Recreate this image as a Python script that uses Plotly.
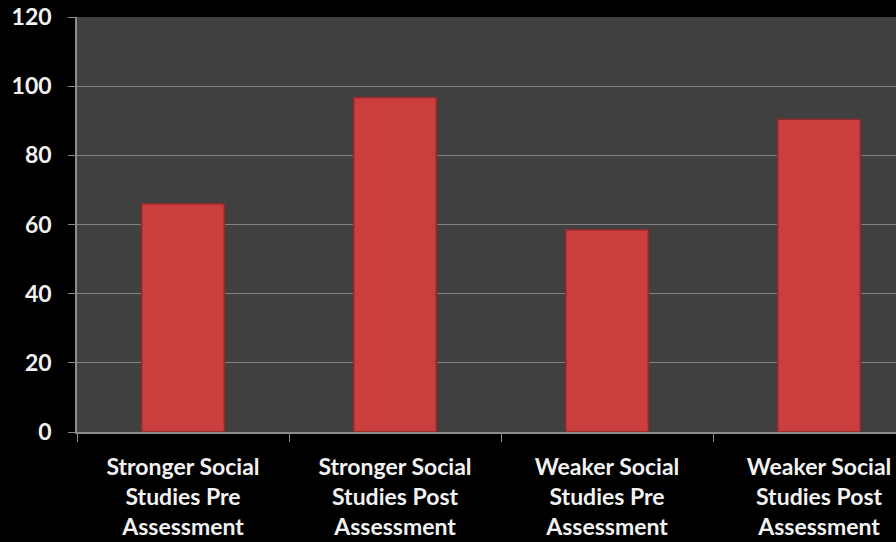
import plotly.graph_objects as go

categories = [
    "Stronger Social<br>Studies Pre<br>Assessment",
    "Stronger Social<br>Studies Post<br>Assessment",
    "Weaker Social<br>Studies Pre<br>Assessment",
    "Weaker Social<br>Studies Post<br>Assessment",
]
values = [66, 96.7, 58.5, 90.4]
y_ticks = [0, 20, 40, 60, 80, 100, 120]

fig = go.Figure()
fig.add_trace(go.Bar(
    x=categories,
    y=values,
    width=0.39,
    marker=dict(color="#cb3e3e", line=dict(color="#8e2a2a", width=1.5)),
))

fig.update_layout(
    width=896, height=542,
    margin=dict(l=77, r=0, t=17, b=110),
    paper_bgcolor="#000000",
    plot_bgcolor="#404040",
    showlegend=False,
    font=dict(family="Lato", color="#f2f2f2"),
)
fig.update_xaxes(
    type="category",
    range=[-0.5, 3.363],
    tickfont=dict(size=23, family="Lato", color="#f2f2f2", weight="bold"),
    showline=True, linecolor="#8c8c8c", linewidth=1.5,
    ticks="outside", ticklen=8, tickcolor="#8c8c8c",
    tickson="boundaries",
    showgrid=False,
    automargin=False,
    tickangle=0,
    ticklabelstandoff=14,
)
fig.update_yaxes(
    range=[0, 120],
    tickvals=y_ticks,
    tickfont=dict(size=23, family="Lato", color="#f2f2f2", weight="bold"),
    showline=True, linecolor="#8c8c8c", linewidth=1.5,
    ticks="outside", ticklen=7, tickcolor="#8c8c8c",
    showgrid=True, gridcolor="#808080", gridwidth=1,
    zeroline=False,
    automargin=False,
    ticklabelstandoff=12,
)
fig.write_html("out.html")
